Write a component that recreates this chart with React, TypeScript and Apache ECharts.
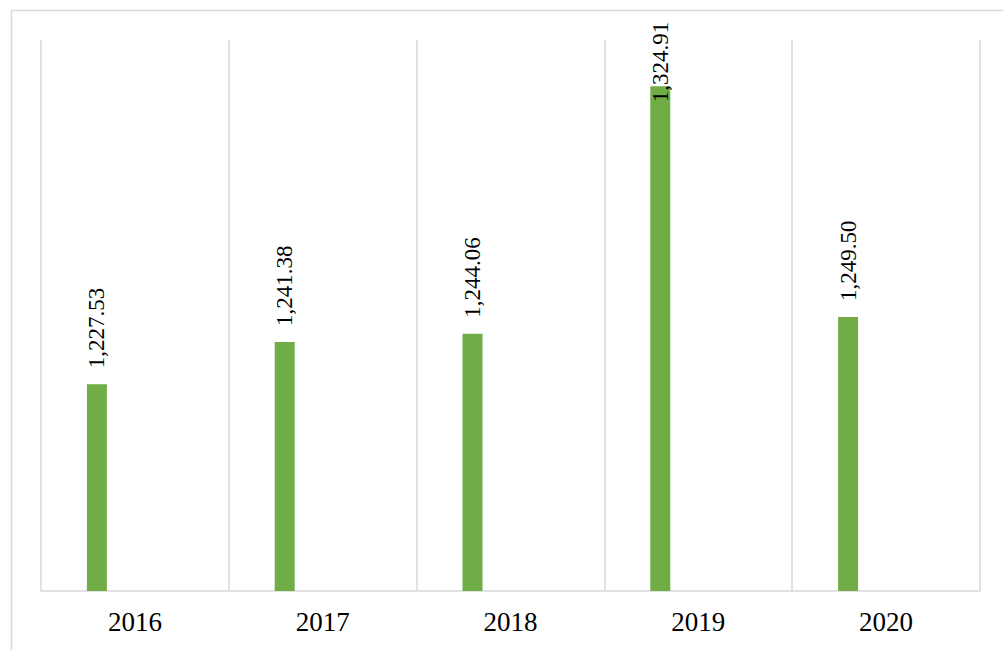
import React, { useEffect, useRef } from "react";
import * as echarts from "echarts";

const categories = ["2016", "2017", "2018", "2019", "2020"];
const values = [1227.53, 1241.38, 1244.06, 1324.91, 1249.5];
const emptySeries = [null, null, null, null, null];

const fmt = (v: number) =>
  v.toLocaleString("en-US", { minimumFractionDigits: 2, maximumFractionDigits: 2 });

export default function App() {
  const ref = useRef<HTMLDivElement>(null);
  useEffect(() => {
    if (!ref.current) return;
    const chart = echarts.init(ref.current, undefined, { renderer: "svg" });
    const maxVal = Math.max(...values);
    chart.setOption({
      animation: false,
      backgroundColor: "#ffffff",
      graphic: [
        {
          type: "rect",
          shape: { x: 11.5, y: 10.5, width: 1100, height: 800 },
          style: { fill: "none", stroke: "#d9d9d9", lineWidth: 1.5 },
          silent: true,
        },
      ],
      grid: { left: 41, right: 23, top: 40, bottom: 59 },
      xAxis: {
        type: "category",
        data: categories,
        axisLine: { show: true, lineStyle: { color: "#d9d9d9", width: 1.5 } },
        axisTick: { show: false },
        splitLine: { show: true, lineStyle: { color: "#d9d9d9", width: 1.5 } },
        axisLabel: {
          fontFamily: "Liberation Serif",
          fontSize: 27,
          color: "#000000",
          margin: 17,
        },
      },
      yAxis: {
        type: "value",
        min: 1160,
        max: 1340,
        show: false,
        splitLine: { show: false },
      },
      series: [
        {
          type: "bar",
          data: values.map((v) =>
            v === maxVal
              ? { value: v, label: { position: "insideTop", distance: 16 } }
              : v
          ),
          barWidth: 20,
          barGap: "280%",
          itemStyle: { color: "#70ad47" },
          label: {
            show: true,
            position: "top",
            distance: 16,
            rotate: 90,
            align: "left",
            verticalAlign: "middle",
            fontFamily: "Liberation Serif",
            fontSize: 23,
            color: "#000000",
            formatter: (p: any) => fmt(p.value),
          },
        },
        {
          type: "bar",
          data: emptySeries,
          barWidth: 20,
          itemStyle: { color: "#ffffff" },
        },
      ],
    });
    return () => chart.dispose();
  }, []);
  return (
    <div
      ref={ref}
      style={{ position: "fixed", left: 0, top: 0, width: 1003, height: 650 }}
    />
  );
}
